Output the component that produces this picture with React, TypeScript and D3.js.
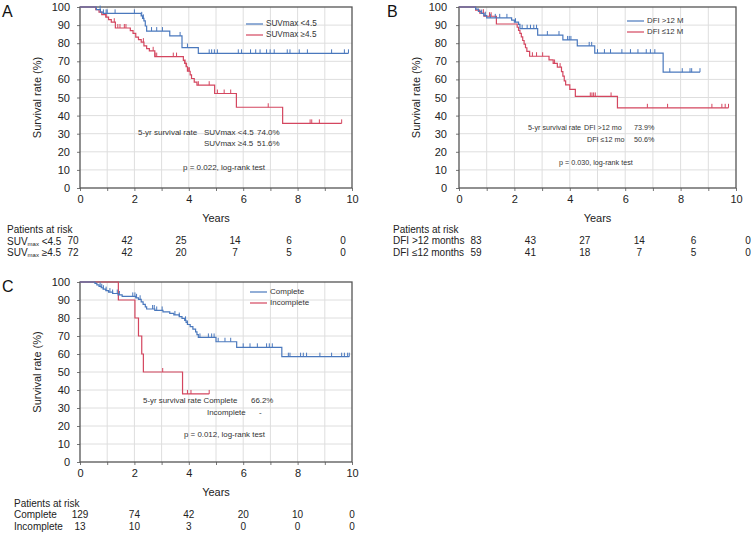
import React, { useEffect, useRef } from "react";
import * as d3 from "d3";

const yearTicks = [0, 2, 4, 6, 8, 10];
const survivalTicks = [0, 10, 20, 30, 40, 50, 60, 70, 80, 90, 100];

// Panel A: SUVmax
const suvLowTimes = [0.6, 0.75, 0.85, 2.25, 2.3, 2.35, 2.4, 2.45, 3.3, 3.75, 4.35];
const suvLowSurv = [98.6, 97.2, 96.5, 95.1, 93.7, 92.3, 89.5, 86.7, 84.0, 77.6, 74.4];
const suvLowCensor = [0.74, 0.86, 0.96, 1.0, 1.29, 2.0, 2.27, 2.33, 2.63, 2.82, 3.03, 3.68, 3.95, 4.75, 4.84, 4.94, 5.05, 5.82, 5.94, 6.27, 6.46, 6.62, 6.86, 6.99, 7.14, 7.62, 7.72, 8.06, 8.36, 9.25, 9.72, 9.87];
const suvHighTimes = [0.58, 0.7, 0.8, 0.95, 1.05, 1.15, 1.3, 1.85, 1.95, 2.05, 2.15, 2.25, 2.35, 2.45, 2.55, 2.75, 3.8, 3.85, 3.9, 3.95, 4.05, 4.1, 4.2, 4.3, 4.95, 5.75, 7.45];
const suvHighSurv = [98.6, 97.2, 95.8, 94.4, 93.0, 91.6, 88.4, 86.9, 85.4, 83.4, 82.0, 80.6, 78.5, 77.0, 75.8, 72.6, 70.5, 68.8, 67.0, 64.5, 62.5, 60.5, 58.5, 56.8, 52.2, 44.6, 35.7];
const suvHighCensor = [0.96, 1.26, 1.39, 1.47, 1.63, 1.69, 2.33, 2.69, 2.76, 2.82, 3.43, 3.55, 3.86, 3.92, 3.98, 4.02, 4.35, 4.75, 5.05, 5.3, 5.54, 6.92, 8.46, 8.52, 8.8, 9.62];
const riskSuvLow = [70, 42, 25, 14, 6, 0];
const riskSuvHigh = [72, 42, 20, 7, 5, 0];

// Panel B: DFI
const dfiLongTimes = [0.6, 0.7, 0.8, 0.9, 1.0, 1.9, 2.0, 2.15, 2.2, 2.84, 3.75, 4.27, 4.9, 7.37];
const dfiLongSurv = [98.8, 97.6, 96.4, 95.2, 94.0, 92.8, 91.6, 90.4, 88.0, 84.5, 81.8, 78.5, 74.5, 64.0];
const dfiLongCensor = [0.82, 0.95, 1.13, 1.31, 1.47, 1.73, 2.04, 2.28, 2.46, 2.58, 2.7, 2.8, 3.19, 3.61, 3.92, 3.98, 4.04, 4.7, 4.79, 5.0, 5.25, 5.47, 5.88, 6.19, 6.46, 6.76, 6.91, 7.07, 7.61, 8.06, 8.34, 8.4, 8.7];
const dfiShortTimes = [0.6, 0.75, 0.9, 1.35, 2.1, 2.15, 2.2, 2.25, 2.3, 2.35, 2.4, 2.45, 2.55, 3.25, 3.4, 3.55, 3.7, 3.75, 3.8, 3.85, 4.0, 4.2, 5.72];
const dfiShortSurv = [98.3, 96.6, 94.9, 90.6, 88.8, 87.1, 85.4, 83.5, 81.5, 79.5, 77.5, 75.5, 72.8, 70.8, 68.8, 66.8, 64.3, 61.8, 59.2, 57.0, 54.5, 50.6, 44.3];
const dfiShortCensor = [0.88, 1.1, 1.16, 2.65, 2.8, 3.02, 3.45, 3.65, 4.74, 4.8, 4.86, 4.92, 5.49, 6.8, 7.53, 9.13, 9.49, 9.61, 9.73];
const riskDfiLong = [83, 43, 27, 14, 6, 0];
const riskDfiShort = [59, 41, 18, 7, 5, 0];

// Panel C: resection
const completeTimes = [0.55, 0.62, 0.7, 0.78, 0.85, 0.95, 1.05, 1.2, 1.4, 1.55, 2.05, 2.15, 2.25, 2.32, 2.4, 2.45, 2.75, 3.05, 3.3, 3.45, 3.65, 3.75, 3.85, 3.9, 3.95, 4.05, 4.15, 4.25, 4.3, 4.35, 5.0, 5.76, 7.42];
const completeSurv = [99.2, 98.4, 97.6, 96.8, 96.0, 95.2, 94.4, 93.6, 92.8, 92.0, 91.2, 90.4, 89.0, 87.6, 86.2, 85.0, 84.2, 83.4, 82.6, 81.7, 80.8, 79.8, 78.7, 77.6, 76.4, 75.2, 73.8, 72.3, 70.8, 69.2, 66.8, 63.7, 58.5];
const completeCensor = [0.74, 0.8, 0.86, 0.96, 1.1, 1.2, 1.37, 1.45, 1.94, 2.02, 2.08, 2.21, 2.67, 2.73, 2.82, 3.02, 3.49, 3.65, 3.88, 3.95, 4.41, 4.72, 4.84, 4.93, 5.08, 5.33, 5.54, 6.0, 6.25, 6.52, 6.86, 6.96, 7.07, 7.66, 7.72, 8.11, 8.21, 8.33, 8.82, 9.25, 9.62, 9.72, 9.84, 9.9];
const incompleteTimes = [1.41, 2.02, 2.15, 2.27, 2.33, 3.77];
const incompleteSurv = [90, 80, 70, 60, 50, 37.8];
const incompleteCensor = [3.04, 3.95, 4.08, 4.75];
const riskComplete = [129, 74, 42, 20, 10, 0];
const riskIncomplete = [13, 10, 3, 0, 0, 0];

const BLUE = "#4a78bd";
const RED = "#d4465f";
const FONT = "'Liberation Sans', Arial, sans-serif";

const survAt = (times: number[], surv: number[], t: number) => {
  let s = 100;
  times.forEach((tt, i) => {
    if (tt <= t) s = surv[i];
  });
  return s;
};

const drawPanel = (svg: any, p: any) => {
  const x = d3.scaleLinear().domain([0, 10]).range([p.left, p.right]);
  const y = d3.scaleLinear().domain([0, 100]).range([p.bottom, p.top]);
  const g = svg.append("g").attr("font-family", FONT);

  // grid
  g.append("g")
    .selectAll("line")
    .data(d3.range(1, 10))
    .join("line")
    .attr("x1", (d: number) => x(d))
    .attr("x2", (d: number) => x(d))
    .attr("y1", p.top)
    .attr("y2", p.bottom)
    .attr("stroke", "#dedede");
  g.append("g")
    .selectAll("line")
    .data(survivalTicks.slice(1, -1))
    .join("line")
    .attr("x1", p.left)
    .attr("x2", p.right)
    .attr("y1", (d: number) => y(d))
    .attr("y2", (d: number) => y(d))
    .attr("stroke", "#dedede");

  // axes
  const ya = g
    .append("g")
    .attr("transform", "translate(" + p.left + ",0)")
    .call(d3.axisLeft(y).tickValues(survivalTicks).tickSize(3).tickPadding(p.yPad));
  ya.select(".domain").remove();
  ya.selectAll("line").attr("stroke", "#777");
  ya.selectAll("text").attr("font-size", 11).attr("font-family", FONT).attr("fill", "#222");

  const xa = g
    .append("g")
    .attr("transform", "translate(0," + p.bottom + ")")
    .call(
      d3
        .axisBottom(x)
        .tickValues(d3.range(0, 11))
        .tickSize(3)
        .tickPadding(4)
        .tickFormat((d: any) => (yearTicks.includes(d) ? String(d) : ""))
    );
  xa.select(".domain").remove();
  xa.selectAll("line").attr("stroke", "#777");
  xa.selectAll("text").attr("font-size", 11).attr("font-family", FONT).attr("fill", "#222");

  // frame
  g.append("rect")
    .attr("x", p.left)
    .attr("y", p.top)
    .attr("width", p.right - p.left)
    .attr("height", p.bottom - p.top)
    .attr("fill", "none")
    .attr("stroke", "#555")
    .attr("stroke-width", 1.3);

  // curves
  const line = d3
    .line<number[]>()
    .x((d) => x(d[0]))
    .y((d) => y(d[1]))
    .curve(d3.curveStepAfter);

  p.curves.forEach((c: any) => {
    const end = Math.max(d3.max(c.censor) as number, c.times[c.times.length - 1]);
    const pts = [[0, 100], ...c.times.map((t: number, i: number) => [t, c.surv[i]]), [end, c.surv[c.surv.length - 1]]];
    g.append("path")
      .attr("d", line(pts))
      .attr("fill", "none")
      .attr("stroke", c.color)
      .attr("stroke-width", 1.2);
    g.append("g")
      .selectAll("line")
      .data(c.censor)
      .join("line")
      .attr("x1", (d: number) => x(d))
      .attr("x2", (d: number) => x(d))
      .attr("y1", (d: number) => y(survAt(c.times, c.surv, d)))
      .attr("y2", (d: number) => y(survAt(c.times, c.surv, d)) - 4)
      .attr("stroke", c.color)
      .attr("stroke-width", 1);
  });

  // legend
  p.legend.forEach((l: any, i: number) => {
    const ly = p.legendY + i * 11;
    g.append("line")
      .attr("x1", p.legendX)
      .attr("x2", p.legendX + 17)
      .attr("y1", ly)
      .attr("y2", ly)
      .attr("stroke", l.color)
      .attr("stroke-width", 1.2);
    g.append("text")
      .attr("x", p.legendX + 20)
      .attr("y", ly)
      .attr("dominant-baseline", "middle")
      .attr("font-size", p.legendSize)
      .attr("fill", "#333")
      .text(l.label);
  });

  // annotations
  p.notes.forEach((n: any) => {
    g.append("text")
      .attr("x", n[0])
      .attr("y", n[1])
      .attr("dominant-baseline", "middle")
      .attr("font-size", p.noteSize)
      .attr("fill", "#333")
      .text(n[2]);
  });

  // labels
  g.append("text")
    .attr("x", p.letterX)
    .attr("y", p.top + 10)
    .attr("font-size", 16)
    .attr("fill", "#111")
    .text(p.letter);
  g.append("text")
    .attr("transform", "translate(" + p.yLabelX + "," + (p.top + p.bottom) / 2 + ") rotate(-90)")
    .attr("text-anchor", "middle")
    .attr("dominant-baseline", "middle")
    .attr("font-size", 11)
    .attr("fill", "#222")
    .text("Survival rate (%)");
  g.append("text")
    .attr("x", (p.left + p.right) / 2)
    .attr("y", p.bottom + 31)
    .attr("text-anchor", "middle")
    .attr("dominant-baseline", "middle")
    .attr("font-size", 11)
    .attr("fill", "#222")
    .text("Years");

  // risk table
  const rx = d3.scaleLinear().domain([0, 10]).range(p.riskRange);
  const ry = p.bottom + 42;
  g.append("text")
    .attr("x", p.riskLabelX)
    .attr("y", ry)
    .attr("dominant-baseline", "middle")
    .attr("font-size", 10)
    .attr("fill", "#222")
    .text("Patients at risk");
  p.risk.forEach((r: any, i: number) => {
    const yy = ry + 11.5 * (i + 1);
    const t = g
      .append("text")
      .attr("x", p.riskLabelX)
      .attr("y", yy)
      .attr("dominant-baseline", "middle")
      .attr("font-size", 10)
      .attr("fill", "#222");
    if (r.sub) {
      t.append("tspan").text(r.label[0]);
      t.append("tspan").attr("font-size", 6).attr("dy", 2).text(r.sub);
      t.append("tspan").attr("dy", -2).text(r.label[1]);
    } else {
      t.text(r.label);
    }
    g.append("g")
      .selectAll("text")
      .data(r.values)
      .join("text")
      .attr("x", (d: number, j: number) => rx(yearTicks[j]))
      .attr("y", yy)
      .attr("text-anchor", "middle")
      .attr("dominant-baseline", "middle")
      .attr("font-size", 10)
      .attr("fill", "#222")
      .text((d: number) => d);
  });
};

function App() {
  const ref = useRef<SVGSVGElement>(null);

  useEffect(() => {
    const svg = d3.select(ref.current);
    svg.selectAll("*").remove();

    drawPanel(svg, {
      left: 80, right: 352, top: 7, bottom: 188, yPad: 7, letter: "A", letterX: 2, yLabelX: 38,
      curves: [
        { times: suvHighTimes, surv: suvHighSurv, censor: suvHighCensor, color: RED },
        { times: suvLowTimes, surv: suvLowSurv, censor: suvLowCensor, color: BLUE },
      ],
      legendX: 246, legendY: 24, legendSize: 8.2,
      legend: [{ label: "SUVmax <4.5", color: BLUE }, { label: "SUVmax \u22654.5", color: RED }],
      noteSize: 8,
      notes: [
        [138, 133, "5-yr survival rate"], [204, 133, "SUVmax <4.5"], [257, 133, "74.0%"],
        [204, 144, "SUVmax \u22654.5"], [257, 144, "51.6%"],
        [183, 168, "p = 0.022, log-rank test"],
      ],
      riskLabelX: 7, riskRange: [73, 343],
      risk: [
        { label: ["SUV", " <4.5"], sub: "max", values: riskSuvLow },
        { label: ["SUV", " \u22654.5"], sub: "max", values: riskSuvHigh },
      ],
    });

    drawPanel(svg, {
      left: 459, right: 736, top: 7, bottom: 188, yPad: 9, letter: "B", letterX: 387, yLabelX: 417,
      curves: [
        { times: dfiShortTimes, surv: dfiShortSurv, censor: dfiShortCensor, color: RED },
        { times: dfiLongTimes, surv: dfiLongSurv, censor: dfiLongCensor, color: BLUE },
      ],
      legendX: 627, legendY: 21, legendSize: 7.8,
      legend: [{ label: "DFI >12 M", color: BLUE }, { label: "DFI \u226412 M", color: RED }],
      noteSize: 7.2,
      notes: [
        [528, 128, "5-yr survival rate"], [584, 128, "DFI >12 mo"], [634, 128, "73.9%"],
        [587, 140, "DFI \u226412 mo"], [634, 140, "50.6%"],
        [559, 163, "p = 0.030, log-rank test"],
      ],
      riskLabelX: 393, riskRange: [476, 748],
      risk: [
        { label: "DFI >12 months", values: riskDfiLong },
        { label: "DFI \u226412 months", values: riskDfiShort },
      ],
    });

    drawPanel(svg, {
      left: 80, right: 352, top: 282, bottom: 462, yPad: 7, letter: "C", letterX: 2, yLabelX: 38,
      curves: [
        { times: incompleteTimes, surv: incompleteSurv, censor: incompleteCensor, color: RED },
        { times: completeTimes, surv: completeSurv, censor: completeCensor, color: BLUE },
      ],
      legendX: 250, legendY: 292, legendSize: 8,
      legend: [{ label: "Complete", color: BLUE }, { label: "Incomplete", color: RED }],
      noteSize: 7.9,
      notes: [
        [143, 401, "5-yr survival rate Complete"], [251, 401, "66.2%"],
        [207, 413, "Incomplete"], [259, 413, "-"],
        [184, 435, "p = 0.012, log-rank test"],
      ],
      riskLabelX: 14, riskRange: [80, 352],
      risk: [
        { label: "Complete", values: riskComplete },
        { label: "Incomplete", values: riskIncomplete },
      ],
    });
  }, []);

  return (
    <svg
      ref={ref}
      width={751}
      height={537}
      style={{ position: "absolute", left: 0, top: 0, background: "#fff" }}
    />
  );
}

export default App;
